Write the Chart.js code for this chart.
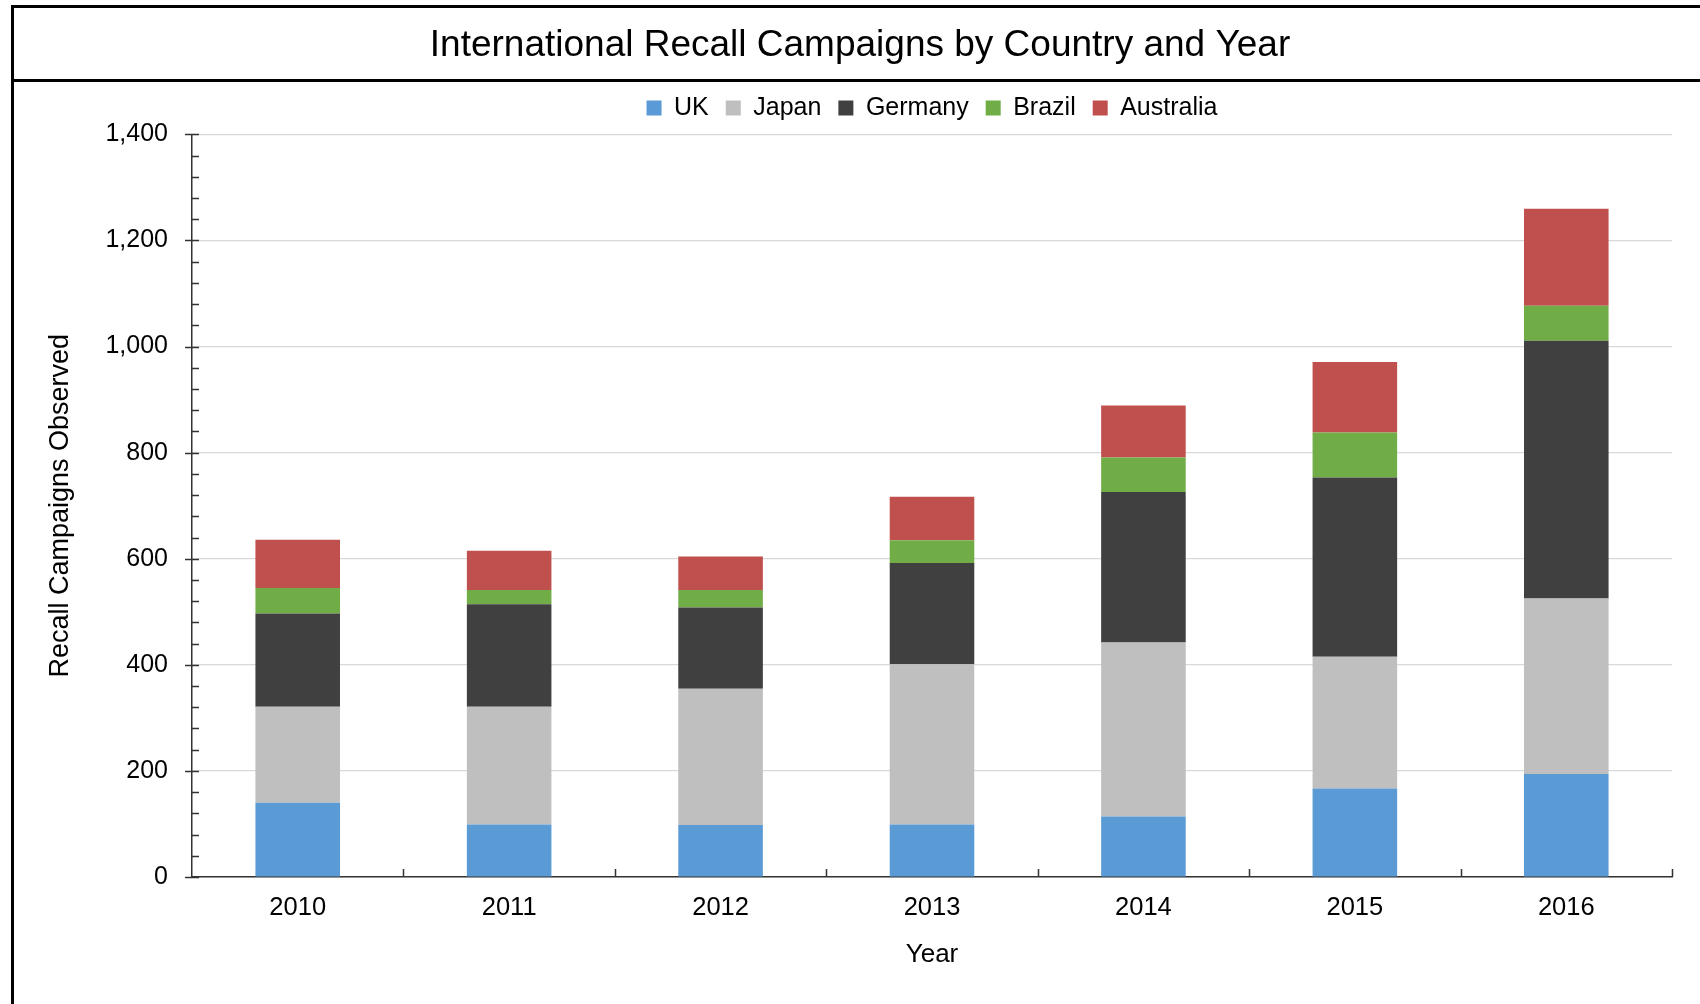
<!DOCTYPE html>
<html>
<head>
<meta charset="utf-8">
<script src="https://cdn.jsdelivr.net/npm/chart.js@4.4.1/dist/chart.umd.min.js"></script>
<style>
  body { margin: 0; background: #fff; }
  #wrap { position: relative; width: 1700px; height: 1004px; }
  .rule { position: absolute; background: #000; }
</style>
</head>
<body>
<div id="wrap">
  <canvas id="recallChart" width="1700" height="1004"></canvas>
  <div class="rule" style="left:11px;top:5px;width:3px;height:999px"></div>
  <div class="rule" style="left:11px;top:5px;width:1689px;height:3px"></div>
  <div class="rule" style="left:11px;top:79px;width:1689px;height:3px"></div>
</div>
<script>
var years = ['2010', '2011', '2012', '2013', '2014', '2015', '2016'];
var uk = [140, 99, 98, 99, 114, 167, 194];
var japan = [181, 222, 257, 302, 328, 248, 331];
var germany = [176, 193, 153, 191, 284, 338, 486];
var brazil = [48, 27, 33, 43, 65, 85, 66];
var australia = [91, 74, 63, 82, 98, 133, 183];

Chart.defaults.font.family = "'Liberation Sans', Arial, sans-serif";
Chart.defaults.color = '#000';

// excel style tick marks: minor ticks inside, major ticks crossing the axis
var tickMarks = {
  id: 'tickMarks',
  afterDraw: function(chart) {
    var ctx = chart.ctx, a = chart.chartArea, x = chart.scales.x, y = chart.scales.y;
    ctx.save();
    ctx.strokeStyle = '#333';
    ctx.lineWidth = 1.5;
    ctx.beginPath();
    for (var v = 0; v <= 1400; v += 40) {
      var py = Math.round(y.getPixelForValue(v)) + 0.5;
      ctx.moveTo(a.left - (v % 200 === 0 ? 7 : 0), py);
      ctx.lineTo(a.left + 7, py);
    }
    for (var i = 1; i <= years.length; i++) {
      var px = Math.round(x.getPixelForValue(i - 0.5)) + 0.5;
      ctx.moveTo(px, a.bottom);
      ctx.lineTo(px, a.bottom - 8);
    }
    ctx.stroke();
    ctx.restore();
  }
};

// a bit more room between legend and plot
var legendGap = {
  id: 'legendGap',
  beforeInit: function(chart) {
    var fit = chart.legend.fit;
    chart.legend.fit = function() {
      fit.bind(chart.legend)();
      this.height += 4;
    };
  }
};

new Chart(document.getElementById('recallChart'), {
  type: 'bar',
  data: {
    labels: years,
    datasets: [
      { label: 'UK', data: uk, backgroundColor: '#5B9BD5' },
      { label: 'Japan', data: japan, backgroundColor: '#BFBFBF' },
      { label: 'Germany', data: germany, backgroundColor: '#404040' },
      { label: 'Brazil', data: brazil, backgroundColor: '#70AD47' },
      { label: 'Australia', data: australia, backgroundColor: '#C0504D' }
    ]
  },
  options: {
    responsive: false,
    animation: false,
    layout: { padding: { left: 20, right: 0, top: 0, bottom: 0 } },
    datasets: {
      bar: { categoryPercentage: 1, barPercentage: 0.4, borderWidth: 0 }
    },
    plugins: {
      title: {
        display: true,
        text: 'International Recall Campaigns by Country and Year',
        font: { size: 37, weight: 'normal' },
        color: '#000',
        padding: { top: 24, bottom: 10 }
      },
      legend: {
        position: 'top',
        fullSize: false,
        labels: {
          boxWidth: 15,
          boxHeight: 15,
          padding: 17,
          font: { size: 25 },
          color: '#000'
        }
      },
      tooltip: { enabled: false }
    },
    scales: {
      x: {
        stacked: true,
        grid: { display: false, drawTicks: false },
        border: { display: true, color: '#333', width: 1.5 },
        ticks: { font: { size: 25.5 }, color: '#000', padding: 16 },
        title: {
          display: true,
          text: 'Year',
          font: { size: 26 },
          color: '#000',
          padding: { top: 0, bottom: 34 }
        },
        afterFit: function(scale) { scale.height = 127; }
      },
      y: {
        stacked: true,
        min: 0,
        max: 1400,
        grid: { color: '#D9D9D9', lineWidth: 1.2, drawTicks: false },
        border: { display: true, color: '#333', width: 1.5 },
        ticks: { stepSize: 200, font: { size: 25 }, color: '#000', padding: 24 },
        title: {
          display: true,
          text: 'Recall Campaigns Observed',
          font: { size: 27 },
          color: '#000',
          padding: { top: 24, bottom: 0 }
        },
        afterFit: function(scale) { scale.width = 172; }
      },
      yRight: {
        position: 'right',
        display: true,
        grid: { display: false, drawTicks: false },
        border: { display: false },
        ticks: { display: false },
        afterFit: function(scale) { scale.width = 28; }
      }
    }
  },
  plugins: [tickMarks, legendGap]
});
</script>
</body>
</html>
